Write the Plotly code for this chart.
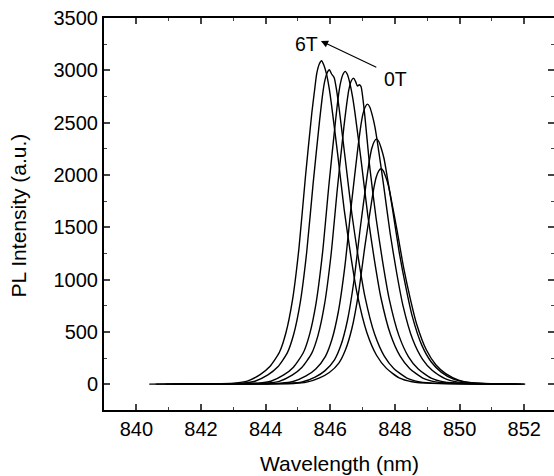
import plotly.graph_objects as go

# Field labels (0T .. 6T)
fields = ["0T", "1T", "2T", "3T", "4T", "5T", "6T"]

wl_0T = [841.60, 844.07, 844.87, 845.27, 845.67, 845.97, 846.27, 846.47, 846.67, 846.87, 847.07, 847.27, 847.35, 847.42,
         847.50, 847.57, 847.64, 847.72, 847.80, 847.87, 848.07, 848.27, 848.47, 848.67, 848.97, 849.27, 849.57, 849.97,
         850.37, 850.97, 852.03]
pl_0T = [2, 4, 8, 21, 62, 113, 206, 330, 536, 865, 1318, 1730, 1880, 1978,
         2040, 2060, 2040, 1978, 1895, 1792, 1463, 1112, 824, 577, 330, 185, 103, 41,
         16, 6, 2]

wl_1T = [841.50, 843.93, 844.73, 845.13, 845.53, 845.83, 846.13, 846.33, 846.53, 846.73, 846.93, 847.13, 847.21, 847.28,
         847.36, 847.43, 847.50, 847.58, 847.66, 847.73, 847.93, 848.13, 848.33, 848.53, 848.83, 849.13, 849.43, 849.83,
         850.23, 850.83, 852.00]
pl_1T = [2, 5, 9, 23, 70, 129, 235, 375, 610, 985, 1501, 1970, 2140, 2251,
         2320, 2345, 2320, 2251, 2160, 2040, 1665, 1266, 938, 657, 375, 211, 117, 47,
         19, 7, 2]

wl_2T = [841.30, 843.65, 844.45, 844.85, 845.25, 845.55, 845.85, 846.05, 846.25, 846.45, 846.65, 846.85, 846.93, 847.00,
         847.08, 847.15, 847.22, 847.30, 847.38, 847.45, 847.65, 847.85, 848.05, 848.25, 848.55, 848.85, 849.15, 849.55,
         849.95, 850.55, 851.90]
pl_2T = [2, 5, 11, 27, 80, 147, 268, 428, 696, 1124, 1713, 2249, 2440, 2570,
         2650, 2677, 2650, 2570, 2460, 2329, 1901, 1446, 1071, 750, 428, 241, 134, 54,
         21, 8, 2]

wl_3T = [841.10, 843.22, 844.02, 844.42, 844.82, 845.12, 845.42, 845.62, 845.82, 846.02, 846.22, 846.42, 846.50, 846.57,
         846.65, 846.72, 846.78, 846.84, 846.90, 846.95, 847.07, 847.22, 847.42, 847.62, 847.82, 848.12, 848.42, 848.72,
         849.12, 849.52, 850.12, 851.80]
pl_3T = [2, 6, 12, 29, 88, 161, 293, 468, 761, 1229, 1873, 2458, 2660, 2809,
         2900, 2926, 2895, 2850, 2862, 2845, 2560, 2077, 1580, 1170, 819, 468, 263, 146,
         59, 23, 9, 2]

wl_4T = [840.90, 842.96, 843.76, 844.16, 844.56, 844.86, 845.16, 845.36, 845.56, 845.76, 845.96, 846.16, 846.24, 846.31,
         846.39, 846.46, 846.53, 846.61, 846.69, 846.76, 846.96, 847.16, 847.36, 847.56, 847.86, 848.16, 848.46, 848.86,
         849.26, 849.86, 851.60]
pl_4T = [2, 6, 12, 30, 90, 164, 299, 478, 777, 1256, 1914, 2512, 2730, 2870,
         2960, 2990, 2960, 2870, 2745, 2601, 2123, 1615, 1196, 837, 478, 269, 150, 60,
         24, 9, 2]

wl_5T = [840.60, 842.47, 843.27, 843.67, 844.07, 844.37, 844.67, 844.87, 845.07, 845.27, 845.47, 845.67, 845.75, 845.82,
         845.90, 845.97, 846.04, 846.12, 846.20, 846.27, 846.47, 846.67, 846.87, 847.07, 847.37, 847.67, 847.97, 848.37,
         848.77, 849.37, 851.40]
pl_5T = [2, 6, 12, 30, 90, 165, 301, 481, 781, 1262, 1923, 2524, 2740, 2885,
         2975, 3005, 2965, 2930, 2800, 2645, 2134, 1623, 1202, 841, 481, 270, 150, 60,
         24, 9, 2]

wl_6T = [840.40, 842.23, 843.03, 843.43, 843.83, 844.13, 844.43, 844.63, 844.83, 845.03, 845.23, 845.43, 845.51, 845.58,
         845.66, 845.73, 845.80, 845.88, 845.96, 846.03, 846.23, 846.43, 846.63, 846.83, 847.13, 847.43, 847.73, 848.13,
         848.53, 849.13, 851.26]
pl_6T = [2, 6, 12, 31, 93, 170, 309, 495, 804, 1299, 1979, 2597, 2800, 2968,
         3060, 3092, 3050, 2968, 2840, 2690, 2195, 1670, 1237, 866, 495, 278, 155, 62,
         25, 9, 2]

series = [(wl_0T, pl_0T), (wl_1T, pl_1T), (wl_2T, pl_2T), (wl_3T, pl_3T),
          (wl_4T, pl_4T), (wl_5T, pl_5T), (wl_6T, pl_6T)]

x_ticks = [840, 842, 844, 846, 848, 850, 852]
y_ticks = [0, 500, 1000, 1500, 2000, 2500, 3000, 3500]

FONT = "Liberation Sans, Arial, Helvetica, sans-serif"

fig = go.Figure()
for name, (wl, pl) in zip(fields, series):
    fig.add_trace(go.Scatter(x=wl, y=pl, mode="lines", name=name,
                             line=dict(color="black", width=1.4, shape="spline", smoothing=0.6),
                             showlegend=False))

# invisible trace on right axis so it renders
fig.add_trace(go.Scatter(x=[x_ticks[0]], y=[y_ticks[0]], yaxis="y2", mode="markers",
                         marker=dict(opacity=0), showlegend=False, hoverinfo="skip"))

yr = [-245, 3500]
xr = [839, 852.92]

fig.update_layout(
    width=554, height=476, autosize=False,
    margin=dict(l=104, r=0, t=18, b=66),
    paper_bgcolor="white", plot_bgcolor="white",
    font=dict(family=FONT, size=20, color="black"),
    xaxis=dict(range=xr, tickvals=x_ticks, ticks="inside", ticklen=6, tickwidth=1.5,
               showline=True, linewidth=2, linecolor="black", mirror="ticks",
               showgrid=False, zeroline=False,
               minor=dict(dtick=1, tick0=839, ticks="inside", ticklen=3, tickwidth=1.2, showgrid=False),
               tickfont=dict(size=20)),
    yaxis=dict(range=yr, tickvals=y_ticks, ticks="inside", ticklen=6, tickwidth=1.5,
               showline=True, linewidth=2, linecolor="black", mirror=False,
               showgrid=False, zeroline=False,
               minor=dict(dtick=250, tick0=0, ticks="inside", ticklen=3, tickwidth=1.2, showgrid=False),
               tickfont=dict(size=20)),
    yaxis2=dict(range=yr, overlaying="y", side="right", anchor="x", tickvals=y_ticks,
                ticks="inside", ticklen=6, tickwidth=1.5, showticklabels=False,
                showline=False, showgrid=False, zeroline=False,
                minor=dict(dtick=250, tick0=0, ticks="inside", ticklen=3, tickwidth=1.2, showgrid=False)),
    annotations=[
        dict(text="Wavelength (nm)", xref="paper", yref="paper", x=0.524, y=-0.103,
             xanchor="center", yanchor="top", showarrow=False, font=dict(size=21)),
        dict(text="PL Intensity (a.u.)", xref="paper", yref="paper", x=-0.19, y=0.495,
             xanchor="center", yanchor="middle", textangle=-90, showarrow=False, font=dict(size=21)),
        dict(text="6T", x=845.25, y=3252, xref="x", yref="y", showarrow=False,
             xanchor="center", yanchor="middle", font=dict(size=19.5)),
        dict(text="0T", x=848.03, y=2918, xref="x", yref="y", showarrow=False,
             xanchor="center", yanchor="middle", font=dict(size=19.5)),
        dict(text="", x=845.71, y=3281, ax=847.47, ay=3023, xref="x", yref="y",
             axref="x", ayref="y", showarrow=True, arrowhead=2, arrowsize=1.2,
             arrowwidth=1.2, arrowcolor="black"),
    ],
)

fig.write_html("out.html",
               config={"responsive": False, "displayModeBar": False},
               post_script="document.body.style.margin='0';document.body.style.padding='0';document.documentElement.style.overflow='hidden';")
